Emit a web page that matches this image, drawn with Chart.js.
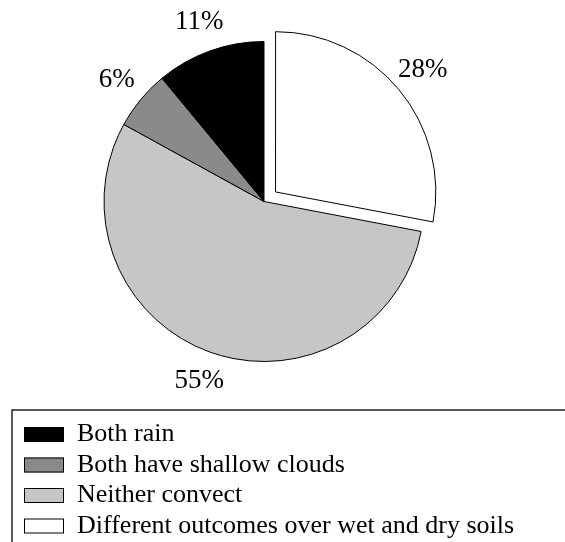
<!DOCTYPE html>
<html>
<head>
<meta charset="utf-8">
<script src="https://cdn.jsdelivr.net/npm/chart.js@4.4.1/dist/chart.umd.min.js"></script>
<style>
html,body{margin:0;padding:0;background:#fff;}
#wrap{width:565px;height:542px;position:relative;}
</style>
</head>
<body>
<div id="wrap"><canvas id="c" width="565" height="542"></canvas></div>
<script>
// Data in clockwise drawing order starting at 12 o'clock
const categories = ['Different outcomes over wet and dry soils', 'Neither convect', 'Both have shallow clouds', 'Both rain'];
const percentValues = [28, 55, 6, 11];
const percentLabels = ['28%', '55%', '6%', '11%'];
const sliceColors = ['#ffffff', '#c6c6c6', '#8a8a8a', '#000000'];
const explodeDistance = [15, 0, 0, 0]; // visual pixels the slice is pulled out

const serif = '"Liberation Serif", "Times New Roman", "DejaVu Serif", serif';
// Legend order (top to bottom) as indices into the arrays above
const legendOrder = [3, 2, 1, 0];

const labelPlugin = {
  id: 'pctLabels',
  afterDatasetsDraw(chart) {
    const ctx = chart.ctx;
    const meta = chart.getDatasetMeta(0);
    ctx.save();
    ctx.font = '27px ' + serif;
    ctx.fillStyle = '#000';
    ctx.textAlign = 'center';
    ctx.textBaseline = 'middle';
    meta.data.forEach((arc, i) => {
      const p = arc.getProps(['x', 'y', 'startAngle', 'endAngle', 'outerRadius'], true);
      const mid = (p.startAngle + p.endAngle) / 2;
      const r = p.outerRadius + 31 + explodeDistance[i];
      ctx.fillText(percentLabels[i], p.x + r * Math.cos(mid), p.y + r * Math.sin(mid));
    });
    ctx.restore();
  }
};

const legendPlugin = {
  id: 'boxLegend',
  afterDraw(chart) {
    const ctx = chart.ctx;
    ctx.save();
    ctx.strokeStyle = '#222';
    ctx.lineWidth = 1.5;
    ctx.beginPath();
    ctx.moveTo(12, 542);
    ctx.lineTo(12, 410);
    ctx.lineTo(565, 410);
    ctx.stroke();
    ctx.font = '26px ' + serif;
    ctx.textAlign = 'left';
    ctx.textBaseline = 'alphabetic';
    legendOrder.forEach((idx, row) => {
      const top = 427 + row * 30.5;
      ctx.fillStyle = sliceColors[idx];
      ctx.fillRect(24, top, 40, 15);
      ctx.strokeStyle = '#000';
      ctx.lineWidth = 1;
      ctx.strokeRect(24.5, top + 0.5, 39, 14);
      ctx.fillStyle = '#000';
      ctx.fillText(categories[idx], 77, top + 14);
    });
    ctx.restore();
  }
};

new Chart(document.getElementById('c'), {
  type: 'pie',
  data: {
    labels: categories,
    datasets: [{
      data: percentValues,
      backgroundColor: sliceColors,
      borderColor: '#000',
      borderWidth: 1,
      // Chart.js v4 arc translates by offset/4
      offset: explodeDistance.map(d => d * 4)
    }]
  },
  options: {
    responsive: false,
    animation: false,
    radius: 160,
    layout: { padding: { left: 0, right: 37, top: 0, bottom: 139 } },
    plugins: {
      legend: { display: false },
      tooltip: { enabled: false }
    }
  },
  plugins: [labelPlugin, legendPlugin]
});
</script>
</body>
</html>
